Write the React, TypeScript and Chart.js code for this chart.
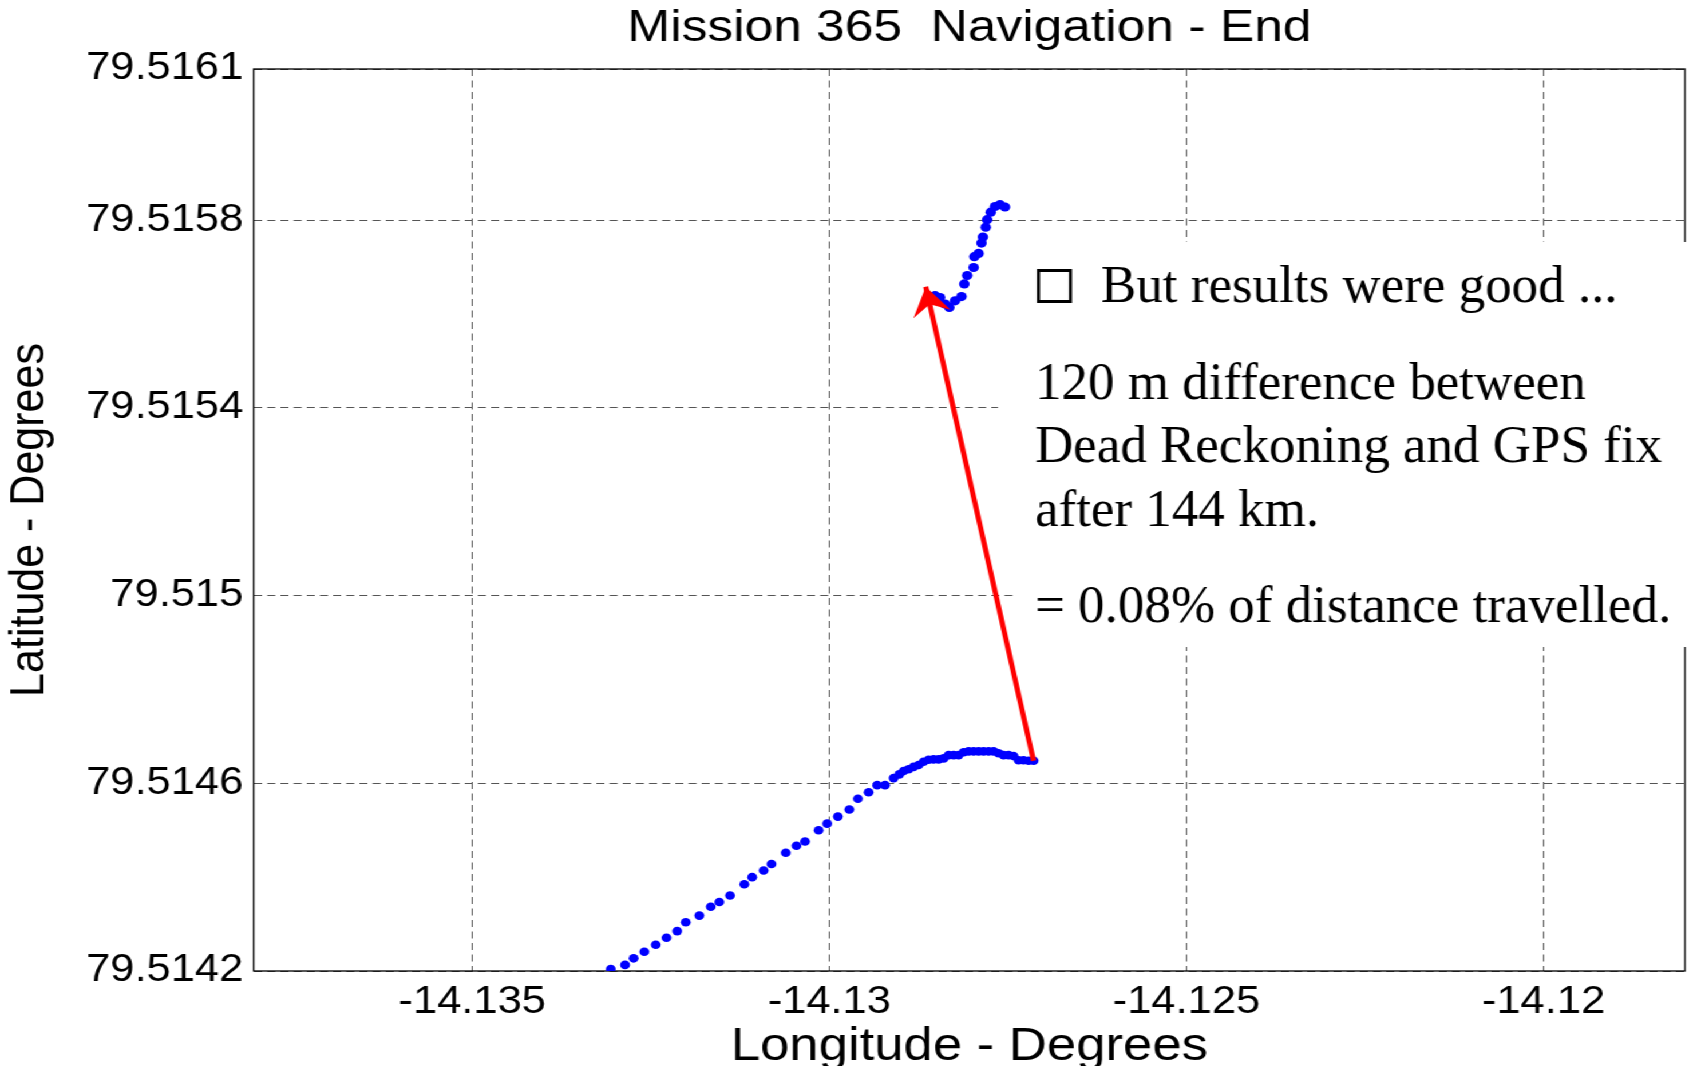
import React, { useEffect, useRef } from 'react';
import { Chart, registerables } from 'chart.js';

Chart.register(...registerables);

// Figure geometry: the original MATLAB figure is stretched horizontally.
const W_FULL = 1693;
const H_FULL = 1066;
const W = 1479;
const S = W_FULL / W;

const titleText = 'Mission 365  Navigation - End';
const xTitle = 'Longitude - Degrees';
const yTitle = 'Latitude - Degrees';

const xMin = -14.13806;
const xMax = -14.11802;
const yMin = 79.5142;
const yMax = 79.516122;

const xTickValues = [-14.135, -14.13, -14.125, -14.12];
const xTickLabels = ['-14.135', '-14.13', '-14.125', '-14.12'];
const yTickValues = [79.5142, 79.5146, 79.515, 79.5154, 79.5158, 79.516122];
const yTickLabels = ['79.5142', '79.5146', '79.515', '79.5154', '79.5158', '79.5161'];

// Dead-reckoning track (lower)
const drLon = [
  -14.13306, -14.13286, -14.13274, -14.13259, -14.13243, -14.13228, -14.13213, -14.13201,
  -14.13182, -14.13166, -14.13154, -14.13139, -14.13119, -14.13108, -14.13092, -14.13081,
  -14.13061, -14.13046, -14.13034, -14.13015, -14.13003, -14.12988, -14.12972, -14.12960,
  -14.12945, -14.12933, -14.12922, -14.12910, -14.12902,
  -14.12896, -14.12889, -14.12882, -14.12875, -14.12868, -14.12861, -14.12854, -14.12847,
  -14.12840, -14.12833, -14.12826, -14.12819, -14.12812, -14.12805, -14.12798, -14.12791,
  -14.12784, -14.12777, -14.12770, -14.12763, -14.12756, -14.12749, -14.12742, -14.12735,
  -14.12728, -14.12721, -14.12714,
];
const drLat = [
  79.514204, 79.514213, 79.514227, 79.514241, 79.514256, 79.514271, 79.514285, 79.514304,
  79.514318, 79.514337, 79.514347, 79.514361, 79.514385, 79.5144, 79.514414, 79.514428,
  79.514452, 79.514467, 79.514476, 79.5145, 79.514514, 79.514529, 79.514544, 79.514567,
  79.514581, 79.514596, 79.514596, 79.514611, 79.514619,
  79.514626, 79.51463, 79.514635, 79.514639, 79.514646, 79.51465, 79.514651, 79.514651,
  79.514653, 79.51466, 79.51466, 79.51466, 79.514666, 79.514668, 79.514668, 79.514668,
  79.514668, 79.514668, 79.514668, 79.514664, 79.51466, 79.51466, 79.514658, 79.514649,
  79.514649, 79.514648, 79.514648,
];

// Track after GPS fix (upper)
const gpsLon = [
  -14.12852, -14.12845, -14.12838, -14.12832, -14.12824, -14.12815, -14.12811, -14.12807,
  -14.12798, -14.12797, -14.12791, -14.12787, -14.12785, -14.12781, -14.12779, -14.12774,
  -14.12768, -14.12761, -14.12754,
];
const gpsLat = [
  79.515639, 79.515635, 79.515621, 79.515614, 79.515628, 79.515637, 79.515664, 79.515682,
  79.515699, 79.515722, 79.515729, 79.515751, 79.515764, 79.515785, 79.515801, 79.515817,
  79.515829, 79.515833, 79.515828,
];

// Red arrow: from dead-reckoning end to GPS fix
const arrowLon = [-14.12714, -14.12865];
const arrowLat = [79.514648, 79.515658];

const noteHeading = 'But results were good ...';
const noteLines = [
  '120 m difference between',
  'Dead Reckoning and GPS fix',
  'after 144 km.',
  '= 0.08% of distance travelled.',
];

const toPoints = (xs: number[], ys: number[]) => xs.map((x, i) => ({ x, y: ys[i] }));

const framePlugin = {
  id: 'frameAndNotes',
  beforeDatasetsDraw(chart: any) {
    const { ctx, chartArea: a } = chart;
    ctx.save();
    ctx.strokeStyle = '#000';
    ctx.lineWidth = 1.3;
    ctx.strokeRect(a.left, a.top, a.right - a.left, a.bottom - a.top);
    ctx.restore();
  },
  afterDatasetsDraw(chart: any) {
    const ctx = chart.ctx;
    ctx.save();
    ctx.scale(1 / S, 1);

    // white text boxes
    ctx.fillStyle = '#ffffff';
    ctx.fillRect(998, 242, W_FULL - 998, 545 - 242);
    ctx.fillRect(1013, 545, W_FULL - 1013, 647 - 545);

    // notes
    ctx.fillStyle = '#000';
    ctx.strokeStyle = '#000';
    ctx.lineWidth = 3;
    ctx.strokeRect(1038.5, 270.5, 32, 31);
    ctx.font = '53px "Liberation Serif", "Times New Roman", serif';
    ctx.textBaseline = 'alphabetic';
    ctx.textAlign = 'left';
    ctx.fillText(noteHeading, 1101, 302);
    const baselines = [398.5, 461.7, 525.7, 621.7];
    noteLines.forEach((t, i) => ctx.fillText(t, 1035, baselines[i]));

    // arrow head
    const meta = chart.getDatasetMeta(2);
    const p0 = meta.data[0];
    const p1 = meta.data[1];
    const x0 = p0.x * S, y0 = p0.y, x1 = p1.x * S, y1 = p1.y;
    const dx = x1 - x0, dy = y1 - y0;
    const L = Math.hypot(dx, dy);
    const ux = dx / L, uy = dy / L;
    const nx = -uy, ny = ux;
    const len = 28, half = 19, notch = 18;
    ctx.beginPath();
    ctx.moveTo(x1, y1);
    ctx.lineTo(x1 - ux * len + nx * half, y1 - uy * len + ny * half);
    ctx.lineTo(x1 - ux * notch, y1 - uy * notch);
    ctx.lineTo(x1 - ux * len - nx * half, y1 - uy * len - ny * half);
    ctx.closePath();
    ctx.fillStyle = '#ff0000';
    ctx.fill();
    ctx.restore();
  },
};

const sans = '"Liberation Sans", Arial, Helvetica, sans-serif';

export default function App() {
  const ref = useRef<HTMLCanvasElement | null>(null);

  useEffect(() => {
    if (!ref.current) return;
    const chart = new Chart(ref.current, {
      type: 'scatter',
      data: {
        datasets: [
          {
            label: 'Dead reckoning',
            data: toPoints(drLon, drLat),
            showLine: false,
            pointRadius: 4.3,
            pointBorderWidth: 0,
            pointBackgroundColor: '#0000ff',
            pointBorderColor: '#0000ff',
            order: 2,
          },
          {
            label: 'After GPS fix',
            data: toPoints(gpsLon, gpsLat),
            showLine: false,
            pointRadius: 4.6,
            pointBorderWidth: 0,
            pointBackgroundColor: '#0000ff',
            pointBorderColor: '#0000ff',
            order: 2,
          },
          {
            label: 'Offset',
            data: toPoints(arrowLon, arrowLat),
            showLine: true,
            borderColor: '#ff0000',
            borderWidth: 4.5,
            pointRadius: 0,
            order: 1,
          },
        ],
      },
      options: {
        responsive: false,
        maintainAspectRatio: false,
        animation: false,
        devicePixelRatio: 1,
        layout: { padding: { left: 0, right: 7, top: 0, bottom: 0 } },
        plugins: {
          legend: { display: false },
          tooltip: { enabled: false },
          title: {
            display: true,
            text: titleText,
            fullSize: false,
            color: '#000',
            font: { family: sans, size: 45, weight: 'normal', lineHeight: 1 },
            padding: { top: 6, bottom: 18 },
          },
        },
        scales: {
          x: {
            type: 'linear',
            position: 'bottom',
            min: xMin,
            max: xMax,
            afterBuildTicks: (s: any) => {
              s.ticks = xTickValues.map((v) => ({ value: v }));
            },
            afterFit: (s: any) => {
              s.height = H_FULL - 971;
            },
            ticks: {
              autoSkip: false,
              maxRotation: 0,
              color: '#000',
              padding: 9,
              font: { family: sans, size: 38 },
              callback: (_v: any, i: number) => xTickLabels[i],
            },
            grid: { color: '#555', lineWidth: 1, drawTicks: false },
            border: { display: false, dash: [7, 4.5] },
            title: {
              display: true,
              text: xTitle,
              color: '#000',
              font: { family: sans, size: 46, lineHeight: 0.8 },
              padding: { top: 0, bottom: 0 },
            },
          },
          y: {
            type: 'linear',
            position: 'left',
            min: yMin,
            max: yMax,
            afterBuildTicks: (s: any) => {
              s.ticks = yTickValues.map((v) => ({ value: v }));
            },
            afterFit: (s: any) => {
              s.width = 221.6;
            },
            ticks: {
              autoSkip: false,
              color: '#000',
              padding: 9,
              font: { family: sans, size: 38 },
              callback: (_v: any, i: number) => yTickLabels[i],
            },
            grid: { color: '#555', lineWidth: 1, drawTicks: false },
            border: { display: false, dash: [7, 4.5] },
            title: {
              display: true,
              text: yTitle,
              color: '#000',
              font: { family: sans, size: 43, lineHeight: 1 },
              padding: { top: 5, bottom: 0 },
            },
          },
        },
      },
      plugins: [framePlugin],
    } as any);
    return () => chart.destroy();
  }, []);

  return (
    <div
      style={{
        position: 'fixed',
        left: 0,
        top: 0,
        width: W,
        height: H_FULL,
        background: '#fff',
        transform: `scaleX(${S})`,
        transformOrigin: '0 0',
      }}
    >
      <canvas ref={ref} width={W} height={H_FULL} style={{ display: 'block' }} />
    </div>
  );
}
